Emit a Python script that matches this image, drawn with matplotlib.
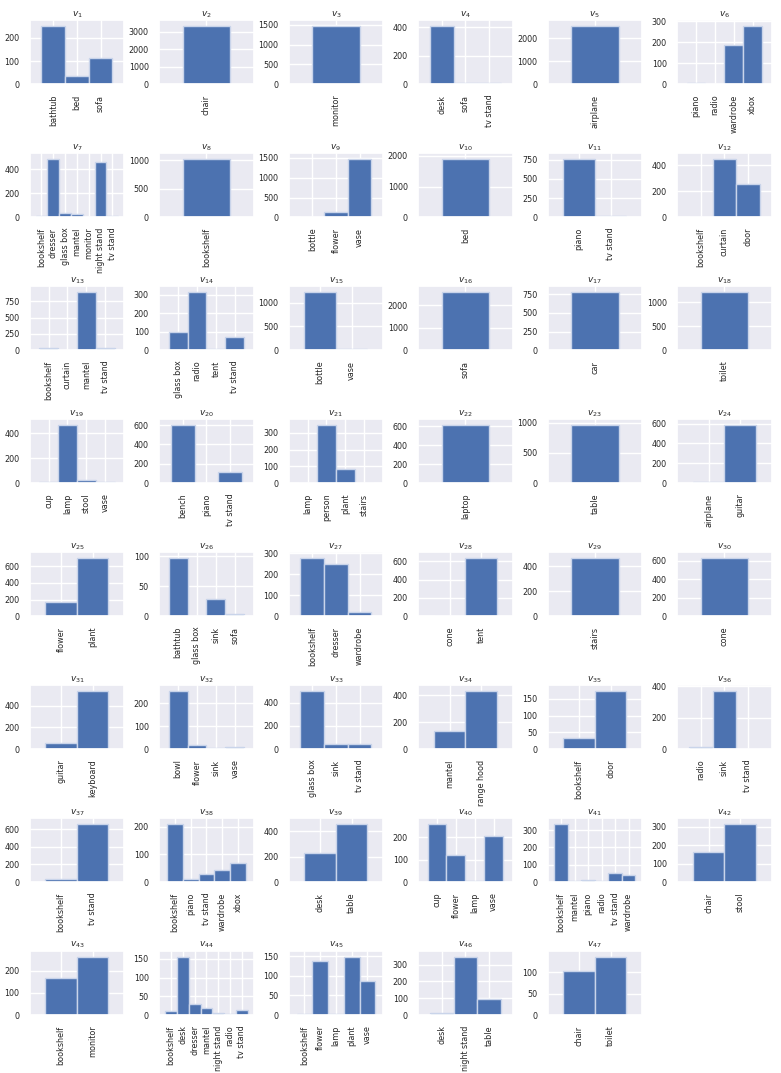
import matplotlib
matplotlib.use("Agg")
import matplotlib.pyplot as plt
from matplotlib.ticker import MaxNLocator
import seaborn as sns

# --- category counts for each variable v1..v47 ---
labels_1 = ["bathtub", "bed", "sofa"]
counts_1 = [250, 37, 113]
labels_2 = ["chair"]
counts_2 = [3320]
labels_3 = ["monitor"]
counts_3 = [1460]
labels_4 = ["desk", "sofa", "tv stand"]
counts_4 = [408, 8, 8]
labels_5 = ["airplane"]
counts_5 = [2520]
labels_6 = ["piano", "radio", "wardrobe", "xbox"]
counts_6 = [5, 3, 188, 276]
labels_7 = ["bookshelf", "dresser", "glass box", "mantel", "monitor", "night stand", "tv stand"]
counts_7 = [12, 482, 32, 28, 3, 462, 14]
labels_8 = ["bookshelf"]
counts_8 = [1020]
labels_9 = ["bottle", "flower", "vase"]
counts_9 = [5, 140, 1470]
labels_10 = ["bed"]
counts_10 = [1890]
labels_11 = ["piano", "tv stand"]
counts_11 = [755, 15]
labels_12 = ["bookshelf", "curtain", "door"]
counts_12 = [5, 445, 255]
labels_13 = ["bookshelf", "curtain", "mantel", "tv stand"]
counts_13 = [30, 8, 890, 30]
labels_14 = ["glass box", "radio", "tent", "tv stand"]
counts_14 = [100, 315, 5, 73]
labels_15 = ["bottle", "vase"]
counts_15 = [1220, 25]
labels_16 = ["sofa"]
counts_16 = [2580]
labels_17 = ["car"]
counts_17 = [780]
labels_18 = ["toilet"]
counts_18 = [1210]
labels_19 = ["cup", "lamp", "stool", "vase"]
counts_19 = [12, 465, 25, 12]
labels_20 = ["bench", "piano", "tv stand"]
counts_20 = [600, 3, 115]
labels_21 = ["lamp", "person", "plant", "stairs"]
counts_21 = [3, 345, 82, 2]
labels_22 = ["laptop"]
counts_22 = [610]
labels_23 = ["table"]
counts_23 = [960]
labels_24 = ["airplane", "guitar"]
counts_24 = [8, 585]
labels_25 = ["flower", "plant"]
counts_25 = [165, 700]
labels_26 = ["bathtub", "glass box", "sink", "sofa"]
counts_26 = [97, 1, 28, 3]
labels_27 = ["bookshelf", "dresser", "wardrobe"]
counts_27 = [278, 248, 20]
labels_28 = ["cone", "tent"]
counts_28 = [5, 635]
labels_29 = ["stairs"]
counts_29 = [465]
labels_30 = ["cone"]
counts_30 = [630]
labels_31 = ["guitar", "keyboard"]
counts_31 = [55, 535]
labels_32 = ["bowl", "flower", "sink", "vase"]
counts_32 = [253, 18, 4, 10]
labels_33 = ["glass box", "sink", "tv stand"]
counts_33 = [500, 40, 45]
labels_34 = ["mantel", "range hood"]
counts_34 = [135, 430]
labels_35 = ["bookshelf", "door"]
counts_35 = [32, 173]
labels_36 = ["radio", "sink", "tv stand"]
counts_36 = [12, 370, 3]
labels_37 = ["bookshelf", "tv stand"]
counts_37 = [30, 660]
labels_38 = ["bookshelf", "piano", "tv stand", "wardrobe", "xbox"]
counts_38 = [210, 10, 28, 45, 68]
labels_39 = ["desk", "table"]
counts_39 = [225, 455]
labels_40 = ["cup", "flower", "lamp", "vase"]
counts_40 = [258, 122, 3, 205]
labels_41 = ["bookshelf", "mantel", "piano", "radio", "tv stand", "wardrobe"]
counts_41 = [335, 5, 12, 8, 55, 42]
labels_42 = ["chair", "stool"]
counts_42 = [165, 315]
labels_43 = ["bookshelf", "monitor"]
counts_43 = [168, 262]
labels_44 = ["bookshelf", "desk", "dresser", "mantel", "night stand", "radio", "tv stand"]
counts_44 = [10, 155, 30, 18, 6, 3, 14]
labels_45 = ["bookshelf", "flower", "lamp", "plant", "vase"]
counts_45 = [2, 138, 3, 148, 88]
labels_46 = ["desk", "night stand", "table"]
counts_46 = [10, 345, 95]
labels_47 = ["chair", "toilet"]
counts_47 = [103, 135]

all_labels = [globals()[f"labels_{i}"] for i in range(1, 48)]
all_counts = [globals()[f"counts_{i}"] for i in range(1, 48)]

sns.set_theme(style="darkgrid")
plt.rcParams['font.family'] = ['DejaVu Sans']

fig, axes = plt.subplots(8, 6, figsize=(7.81, 10.73), dpi=100)
fig.subplots_adjust(left=0.038, right=0.988, top=0.981, bottom=0.054,
                    wspace=0.37, hspace=1.08)
axes = axes.ravel()

for i, (labs, cnts) in enumerate(zip(all_labels, all_counts)):
    ax = axes[i]
    x = list(range(len(labs)))
    ax.bar(x, cnts, width=1.0, color="#4C72B0", edgecolor="#C9D4EA", linewidth=1.0)
    ax.set_xticks(x)
    ax.set_xticklabels(labs, rotation=90, fontsize=5.8)
    ax.set_xlim(-1, len(labs))
    ax.margins(y=0.1)
    ax.yaxis.set_major_locator(MaxNLocator(nbins=4, steps=[1, 2, 2.5, 5, 10]))
    ax.tick_params(axis="y", labelsize=5.8, pad=1.5)
    ax.tick_params(axis="x", pad=1.5)
    ax.set_title(f"$v_{{{i + 1}}}$", fontsize=6.5, pad=3)

axes[-1].set_visible(False)

fig.savefig("out.png", dpi=100)
